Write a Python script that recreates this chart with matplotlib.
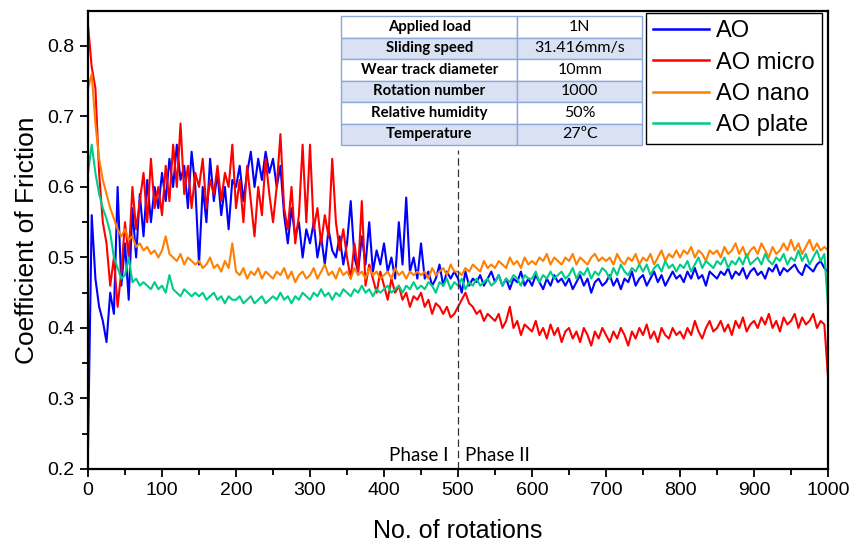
import numpy as np
import matplotlib
matplotlib.use("Agg")
import matplotlib.pyplot as plt

# rotations sampled every 5 (0..1000)
rotations = np.arange(0, 1001, 5)

# AO
ao = [
    0.23, 0.56, 0.47, 0.43, 0.41, 0.38, 0.45, 0.42, 0.60, 0.46,
    0.52, 0.44, 0.57, 0.50, 0.59, 0.53, 0.61, 0.55, 0.60, 0.57,
    0.62, 0.58, 0.64, 0.60, 0.66, 0.61, 0.63, 0.57, 0.65, 0.60,
    0.49, 0.60, 0.55, 0.64, 0.58, 0.62, 0.56, 0.60, 0.54, 0.61,
    0.60, 0.63, 0.58, 0.62, 0.65, 0.60, 0.64, 0.61, 0.65, 0.62,
    0.64, 0.60, 0.63, 0.56, 0.52, 0.57, 0.53, 0.55, 0.50, 0.54,
    0.52, 0.55, 0.50, 0.53, 0.49, 0.54, 0.51, 0.50, 0.53, 0.49,
    0.52, 0.58, 0.50, 0.48, 0.53, 0.49, 0.55, 0.48, 0.51, 0.49,
    0.52, 0.48, 0.50, 0.47, 0.55, 0.49, 0.585, 0.48, 0.50, 0.47,
    0.52, 0.47, 0.48, 0.46, 0.47, 0.49, 0.46, 0.48, 0.47, 0.48,
    0.47, 0.45, 0.48, 0.46, 0.47, 0.465, 0.475, 0.46, 0.47, 0.48,
    0.465, 0.475, 0.46, 0.47, 0.455, 0.47, 0.465, 0.48, 0.46, 0.47,
    0.46, 0.475, 0.465, 0.455, 0.47, 0.46, 0.475, 0.465, 0.47, 0.46,
    0.47, 0.455, 0.465, 0.475, 0.46, 0.47, 0.45, 0.465, 0.47, 0.46,
    0.465, 0.475, 0.46, 0.47, 0.455, 0.47, 0.465, 0.48, 0.46, 0.47,
    0.475, 0.46, 0.47, 0.48, 0.465, 0.475, 0.46, 0.47, 0.48, 0.47,
    0.475, 0.465, 0.48, 0.47, 0.485, 0.47, 0.475, 0.46, 0.48, 0.475,
    0.47, 0.48, 0.475, 0.485, 0.47, 0.48, 0.475, 0.485, 0.47, 0.48,
    0.485, 0.475, 0.48, 0.47, 0.485, 0.48, 0.49, 0.475, 0.485, 0.48,
    0.485, 0.49, 0.48, 0.475, 0.49, 0.485, 0.48, 0.49, 0.495, 0.485,
    0.48,
]

# AO micro
ao_micro = [
    0.83, 0.77, 0.74, 0.62, 0.55, 0.52, 0.46, 0.50, 0.43, 0.48,
    0.55, 0.50, 0.60, 0.54, 0.58, 0.62, 0.55, 0.64, 0.57, 0.60,
    0.56, 0.63, 0.58, 0.66, 0.60, 0.69, 0.59, 0.63, 0.57, 0.62,
    0.60, 0.64, 0.57, 0.61, 0.59, 0.63, 0.58, 0.62, 0.60, 0.66,
    0.57, 0.61, 0.55, 0.63, 0.58, 0.53, 0.60, 0.56, 0.64, 0.59,
    0.55, 0.60, 0.675, 0.57, 0.54, 0.60, 0.52, 0.56, 0.66, 0.55,
    0.66, 0.54, 0.57, 0.52, 0.56, 0.53, 0.64, 0.55, 0.51, 0.54,
    0.50, 0.47, 0.52, 0.48, 0.58, 0.46, 0.49, 0.47, 0.45, 0.48,
    0.46, 0.44, 0.47, 0.45, 0.46, 0.44, 0.45, 0.43, 0.445, 0.44,
    0.45, 0.43, 0.44, 0.42, 0.435, 0.43, 0.42, 0.43, 0.415, 0.42,
    0.43, 0.44, 0.45, 0.435, 0.43, 0.42, 0.425, 0.41, 0.42, 0.415,
    0.41, 0.42, 0.40, 0.41, 0.43, 0.40, 0.41, 0.39, 0.405, 0.40,
    0.395, 0.41, 0.39, 0.40, 0.385, 0.405, 0.39, 0.40, 0.38, 0.395,
    0.40, 0.385, 0.395, 0.38, 0.40, 0.39, 0.375, 0.395, 0.385, 0.40,
    0.39, 0.38, 0.395, 0.385, 0.40, 0.39, 0.375, 0.395, 0.385, 0.40,
    0.39, 0.405, 0.385, 0.395, 0.38, 0.40, 0.39, 0.385, 0.40, 0.39,
    0.395, 0.385, 0.40, 0.39, 0.41, 0.395, 0.385, 0.40, 0.41, 0.395,
    0.40, 0.41, 0.395, 0.405, 0.39, 0.41, 0.40, 0.415, 0.395, 0.405,
    0.41, 0.40, 0.415, 0.405, 0.42, 0.40, 0.41, 0.395, 0.415, 0.405,
    0.41, 0.42, 0.40, 0.415, 0.405, 0.41, 0.42, 0.40, 0.41, 0.405,
    0.33,
]

# AO nano
ao_nano = [
    0.74, 0.76, 0.69, 0.64, 0.61, 0.59, 0.57, 0.555, 0.54, 0.53,
    0.54, 0.525, 0.53, 0.515, 0.52, 0.51, 0.515, 0.505, 0.51, 0.50,
    0.51, 0.53, 0.505, 0.50, 0.495, 0.505, 0.49, 0.50, 0.495, 0.49,
    0.495, 0.485, 0.49, 0.50, 0.485, 0.49, 0.48, 0.495, 0.485, 0.52,
    0.48, 0.475, 0.485, 0.47, 0.48, 0.475, 0.485, 0.47, 0.48, 0.475,
    0.47, 0.48, 0.475, 0.485, 0.47, 0.48, 0.465, 0.475, 0.48, 0.47,
    0.475, 0.485, 0.47, 0.48, 0.49, 0.475, 0.48, 0.47, 0.485, 0.475,
    0.48, 0.47, 0.485, 0.475, 0.48, 0.47, 0.485, 0.475, 0.48, 0.47,
    0.475, 0.48, 0.47, 0.485, 0.475, 0.48, 0.47, 0.48, 0.475, 0.48,
    0.475, 0.48, 0.47, 0.485, 0.475, 0.48, 0.485, 0.475, 0.49, 0.48,
    0.48, 0.475, 0.485, 0.48, 0.49, 0.485, 0.48, 0.495, 0.485, 0.49,
    0.485, 0.495, 0.49, 0.485, 0.50, 0.49, 0.495, 0.485, 0.50, 0.49,
    0.495, 0.49, 0.50, 0.495, 0.505, 0.49, 0.50, 0.495, 0.49, 0.50,
    0.495, 0.505, 0.49, 0.50, 0.495, 0.49, 0.50, 0.505, 0.495, 0.50,
    0.495, 0.50, 0.49, 0.505, 0.495, 0.49, 0.50, 0.495, 0.505, 0.49,
    0.50, 0.495, 0.505, 0.49, 0.50, 0.51, 0.495, 0.505, 0.50, 0.51,
    0.50, 0.51, 0.505, 0.515, 0.50, 0.51, 0.505, 0.495, 0.51, 0.505,
    0.51, 0.50, 0.515, 0.505, 0.51, 0.52, 0.505, 0.515, 0.50, 0.51,
    0.515, 0.505, 0.52, 0.51, 0.50, 0.515, 0.505, 0.51, 0.52, 0.51,
    0.525, 0.51, 0.52, 0.505, 0.515, 0.525, 0.51, 0.52, 0.51, 0.515,
    0.51,
]

# AO plate
ao_plate = [
    0.62, 0.66, 0.62, 0.59, 0.57, 0.555, 0.535, 0.50, 0.485, 0.47,
    0.475, 0.50, 0.465, 0.47, 0.46, 0.465, 0.46, 0.455, 0.465, 0.455,
    0.46, 0.45, 0.475, 0.455, 0.45, 0.445, 0.455, 0.45, 0.445, 0.45,
    0.445, 0.45, 0.44, 0.445, 0.45, 0.44, 0.445, 0.435, 0.445, 0.44,
    0.44, 0.445, 0.435, 0.44, 0.445, 0.435, 0.44, 0.445, 0.435, 0.44,
    0.445, 0.44, 0.45, 0.44, 0.445, 0.435, 0.445, 0.44, 0.45, 0.445,
    0.44, 0.45, 0.445, 0.455, 0.445, 0.45, 0.44, 0.45, 0.445, 0.455,
    0.45, 0.445, 0.455, 0.45, 0.46, 0.45, 0.455, 0.445, 0.455, 0.45,
    0.455, 0.46, 0.45, 0.455, 0.46, 0.45, 0.46, 0.455, 0.465, 0.455,
    0.46, 0.455, 0.465, 0.46, 0.45, 0.465, 0.46, 0.47, 0.455, 0.465,
    0.46, 0.47, 0.455, 0.465, 0.46, 0.47, 0.46, 0.465, 0.47, 0.46,
    0.465, 0.475, 0.46, 0.47, 0.465, 0.475, 0.47, 0.46, 0.475, 0.47,
    0.47, 0.48, 0.465, 0.475, 0.47, 0.48, 0.47, 0.475, 0.48, 0.47,
    0.475, 0.485, 0.47, 0.48, 0.475, 0.485, 0.47, 0.48, 0.475, 0.485,
    0.48, 0.47, 0.485, 0.475, 0.49, 0.48, 0.475, 0.485, 0.48, 0.49,
    0.48, 0.49, 0.475, 0.485, 0.49, 0.48, 0.495, 0.485, 0.49, 0.48,
    0.49, 0.485, 0.495, 0.48, 0.49, 0.50, 0.485, 0.495, 0.49, 0.485,
    0.495, 0.49, 0.50, 0.485, 0.495, 0.49, 0.50, 0.49, 0.505, 0.49,
    0.495, 0.50, 0.49, 0.505, 0.495, 0.49, 0.50, 0.495, 0.505, 0.49,
    0.50, 0.495, 0.51, 0.495, 0.505, 0.49, 0.50, 0.51, 0.495, 0.505,
    0.43,
]

series_names = ["AO", "AO micro", "AO nano", "AO plate"]
series_colors = ["#0000FF", "#FF0000", "#FF7F00", "#00CC88"]

# test conditions table
param_names = ["Applied load", "Sliding speed", "Wear track diameter",
               "Rotation number", "Relative humidity", "Temperature"]
param_values = ["1N", "31.416mm/s", "10mm", "1000", "50%", "27ºC"]

arial = ["Liberation Sans", "DejaVu Sans"]
calibri = ["Lato", "DejaVu Sans"]

fig = plt.figure(figsize=(8.57, 5.44), dpi=100)
ax = fig.add_axes([0.1027, 0.1379, 0.8635, 0.8424])

for name, ys, col in zip(series_names, [ao, ao_micro, ao_nano, ao_plate], series_colors):
    ax.plot(rotations, ys, color=col, lw=1.5, label=name)

ax.set_xlim(0, 1000)
ax.set_ylim(0.2, 0.85)
ax.set_xticks(np.arange(0, 1001, 100))
ax.set_xticks(np.arange(50, 1000, 100), minor=True)
ax.set_yticks([0.2, 0.3, 0.4, 0.5, 0.6, 0.7, 0.8])
ax.set_yticks(np.arange(0.25, 0.85, 0.1), minor=True)
ax.tick_params(which="both", direction="out", width=1.3, top=False, right=False)
ax.tick_params(which="major", length=6)
ax.tick_params(which="minor", length=4)
for s in ax.spines.values():
    s.set_linewidth(1.6)

for lab in ax.get_xticklabels():
    lab.set_fontfamily(arial)
    lab.set_fontsize(14)
for lab in ax.get_yticklabels():
    lab.set_fontfamily(arial)
    lab.set_fontsize(14)

ax.set_xlabel("No. of rotations", family=arial, fontsize=18, labelpad=14)
ax.set_ylabel("Coefficient of Friction", family=arial, fontsize=19, labelpad=6)

# phase separator
ax.plot([500, 500], [0.2, 0.652], color="#333333", lw=0.9, ls=(0, (6, 3)))
ax.text(487, 0.207, "Phase I", ha="right", va="bottom", family=calibri, fontsize=13.5)
ax.text(510, 0.207, "Phase II", ha="left", va="bottom", family=calibri, fontsize=13.5)

leg = ax.legend(loc="upper right", bbox_to_anchor=(0.992, 0.995), borderaxespad=0,
                fancybox=False, edgecolor="black", framealpha=1,
                prop={"family": arial, "size": 17}, handlelength=2.4,
                handletextpad=0.3, labelspacing=0.4, borderpad=0.3)
leg.get_frame().set_linewidth(1.0)
for h in leg.get_lines():
    h.set_linewidth(1.8)

tbl = ax.table(cellText=[[a, b] for a, b in zip(param_names, param_values)],
               colWidths=[0.585, 0.415], cellLoc="center",
               bbox=[0.342, 0.707, 0.407, 0.281])
tbl.auto_set_font_size(False)
for (r, c), cell in tbl.get_celld().items():
    cell.set_edgecolor("#8EA9DB")
    cell.set_linewidth(1.0)
    cell.set_facecolor("#D9E1F2" if r % 2 == 1 else "white")
    t = cell.get_text()
    t.set_fontfamily(calibri)
    if c == 0:
        t.set_fontweight("bold")
        t.set_fontsize(10.7)
    else:
        t.set_fontsize(11.5)

fig.savefig("out.png", dpi=100)
